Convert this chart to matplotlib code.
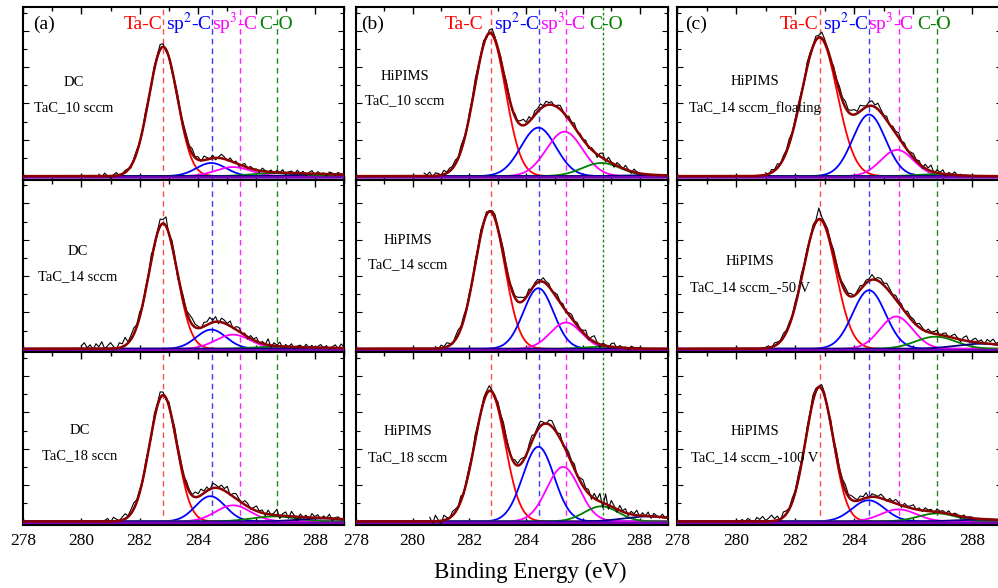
import numpy as np
import matplotlib
matplotlib.use("Agg")
import matplotlib.pyplot as plt
from matplotlib.ticker import MultipleLocator

plt.rcParams['font.family'] = ['Liberation Serif', 'DejaVu Serif']
plt.rcParams['mathtext.fontset'] = 'stix'

# ---------------------------------------------------------------- data
# C 1s spectra, panels ordered row by row: columns (a) DC, (b) HiPIMS, (c) HiPIMS bias series
process = [["DC", "HiPIMS", "HiPIMS"],
           ["DC", "HiPIMS", "HiPIMS"],
           ["DC", "HiPIMS", "HiPIMS"]]
sample = [["TaC_10 sccm", "TaC_10 sccm", "TaC_14 sccm_floating"],
          ["TaC_14 sccm", "TaC_14 sccm", "TaC_14 sccm_-50 V"],
          ["TaC_18 sccn", "TaC_18 sccm", "TaC_14 sccm_-100 V"]]
panel_tags = ["(a)", "(b)", "(c)"]

# fitted components: center (eV), height (counts, a.u.), FWHM (eV)
tac_center = [[282.80, 282.72, 282.82], [282.80, 282.72, 282.82], [282.80, 282.72, 282.82]]
tac_height = [[128, 141, 137], [124, 136, 128], [125, 129, 133]]
tac_fwhm = [[1.15, 1.29, 1.41], [1.14, 1.23, 1.30], [1.10, 1.25, 1.10]]

sp2_center = [[284.45, 284.43, 284.50], [284.45, 284.43, 284.50], [284.42, 284.43, 284.48]]
sp2_height = [[13, 48, 61], [19, 60, 58], [25, 74, 21]]
sp2_fwhm = [[1.20, 1.45, 1.30], [1.20, 1.25, 1.30], [1.20, 1.30, 1.30]]

sp3_center = [[285.20, 285.35, 285.45], [285.20, 285.40, 285.42], [285.20, 285.30, 285.50]]
sp3_height = [[9, 44, 26], [14, 26, 32], [16, 54, 12]]
sp3_fwhm = [[1.40, 1.50, 1.30], [1.40, 1.30, 1.30], [1.40, 1.35, 1.40]]

co_center = [[286.60, 286.65, 286.75], [286.60, 286.65, 286.75], [286.60, 286.65, 286.80]]
co_height = [[3, 13, 2], [2, 2, 12], [5, 15, 8]]
co_fwhm = [[1.80, 1.60, 1.50], [1.80, 1.50, 1.60], [1.80, 1.40, 1.50]]

sat_center = [[288.3, 288.3, 288.3], [288.3, 288.3, 288.3], [288.3, 288.3, 288.3]]
sat_height = [[2, 1, 0], [1, 0, 5], [3, 5, 2]]
sat_fwhm = [[2.0, 2.0, 2.0], [2.0, 2.0, 2.0], [2.0, 2.0, 2.0]]

background_level = -1.3

# reference binding energies marked in each column: Ta-C, sp2-C, sp3-C, C-O
ref_lines = [[282.80, 284.47, 285.45, 286.70],
             [282.75, 284.44, 285.39, 286.70],
             [282.85, 284.50, 285.50, 286.80]]

# measured spectra: start energy, 0.1 eV step, deviation from the fit envelope
meas_start = [[280.6, 280.4, 281.0], [280.0, 280.8, 281.0], [280.8, 280.6, 280.0]]
meas_step = 0.1
resid_a1 = [2, -1, 3, 0, -2, 1, 3, -1, 0, 2, 1, -2, 2, 3, -1, 0, 4, 1, -2, 3,
            2, 5, 3, -2, 1, -3, 2, 4, 1, 3, 4, 2, 5, 1, 3, -1, 4, 2, 0, 3,
            -2, 1, 4, 2, -1, 3, 0, 2, -2, 1, 3, -1, 2, 0, 1, -2, 3, 1, 0, 2,
            -1, 2, 0, 3, -2, 1, 2, -1, 3, 0, 2, -2, 1, 3, -1, 2, 0, 1, -2, 2,
            1, -1, 2, 0, 1]
resid_a2 = [3, 6, 1, 4, -1, 5, 2, 7, 0, 3, 6, 2, -1, 5, 3, 8, 1, 4, 6, 2,
            5, -2, 3, 1, 6, -3, 2, 7, 4, 9, -2, 5, 3, -4, 2, 4, 1, 5, 6, 3,
            2, -1, 4, 3, 6, 2, 5, -2, 4, 3, 1, 5, -1, 3, 4, 0, 2, -2, 3, 1,
            4, -1, 2, 0, 6, -2, 3, 1, 4, -1, 2, 0, 3, -2, 1, 2, -1, 3, 0, 2,
            -1, 1, 3, 0, 2, -2, 1, 3, -1, 4, 1]
resid_a3 = [1, 3, -1, 4, 2, 0, 3, 5, 1, 4, 6, 2, 3, -1, 4, 1, -3, 5, 2, 6,
            3, -2, 4, 1, 5, 2, 3, -1, 4, 2, 1, 5, 3, 6, 2, 4, -1, 5, 3, 1,
            4, 2, 6, -1, 3, 5, 2, 0, 4, 3, -1, 2, 5, 1, 3, -2, 4, 0, 2, 6,
            -3, 2, 4, -2, 5, 1, -4, 3, 0, 2, -2, 4, 1, 3, -1, 2, 0, 4, -2, 1,
            2, -1, 1]
resid_b1 = [3, 1, 4, -1, 3, 2, 0, 4, 1, 3, 2, 4, 1, 5, 3, -1, 4, 2, 6, 3,
            1, 4, -2, 3, 5, 2, -1, 3, 1, 4, 2, -2, 3, 1, 4, 6, 2, 5, -1, 4,
            3, 5, 1, 4, 2, 3, -1, 2, 4, 1, -2, 3, 1, 4, -1, 2, 0, 3, -2, 2,
            1, -3, 3, 5, -2, 4, 1, -3, 3, 2, -1, 4, 1, -2, 3, 1, 0]
resid_b2 = [2, -1, 3, 1, 4, 2, -1, 3, 5, 2, 4, 1, 3, -2, 4, 2, 5, 1, 3, -1,
            2, 4, 1, 3, 5, 2, -1, 3, 2, 4, 5, 3, 1, 4, -1, 2, 3, 1, 4, 2,
            3, -1, 2, 4, 1, 3, -2, 2, 4, 1, 3, 0, 2, 5, -2, 3, 6, 1, -3, 2,
            1, -2, 3, 4, -1, 2, 0, 1, -2, 2, 1, 0, 1]
resid_b3 = [4, -2, 6, 1, -3, 5, 2, -1, 4, 3, 1, 5, -2, 3, 4, 1, 6, 2, -1, 4,
            3, 5, 1, -2, 4, 2, 6, 3, 1, -1, 4, 2, 5, 3, -2, 4, 6, 1, 3, 5,
            2, -1, 4, 6, 3, 1, 5, -2, 3, 4, 2, 5, -1, 3, 6, 2, 4, -3, 5, 1,
            8, -5, 10, -4, 6, 2, -3, 5, 1, 4, -2, 3, 1, 5, -1, 3, 0, 4, -2, 3,
            1, -1, 3, 0, 2]
resid_c1 = [2, -1, 3, 1, 4, 0, 3, 2, 5, 1, 3, 4, 2, -1, 5, 3, 1, 4, 2, 6,
            3, 1, -2, 4, 2, 5, 3, 6, 2, 4, 5, 2, 6, 3, 1, 4, 5, 2, 6, 3,
            1, 4, -1, 3, 2, 5, 1, 3, -1, 2, 4, 1, 3, -2, 4, 2, 6, -1, 3, 1,
            4, -2, 2, 0, 3, -1, 1]
resid_c2 = [1, 2, -1, 3, 2, 1, 4, 2, 3, 1, 4, 2, 5, 1, 3, -1, 4, 2, 11, 3,
            2, 4, 1, 5, 3, -1, 3, 4, 2, 3, -1, 2, 4, 1, 3, 2, 5, 1, 3, 4,
            2, 5, 3, 1, 4, 2, 3, -1, 4, 2, 3, 1, 4, 2, -1, 3, 1, 2, 4, -1,
            2, 3, -1, 2, 4, 1, -2, 3, 5, -1, 2, 4, 1, 3, -1, 4, 2, 5, 1, 3,
            2]
resid_c3 = [1, -1, 2, 0, 3, 1, -1, 4, 2, 5, 1, 3, 6, 2, 4, -2, 5, 3, 1, 4,
            2, 5, 3, -1, 4, 2, 6, 3, 1, 4, 3, -2, 4, 1, 5, 2, 3, 6, 2, 4,
            3, 1, 4, 2, 5, -1, 3, 2, 1, 4, 2, -1, 3, 1, 4, 2, -2, 3, 1, 2,
            4, 0, 2, -1, 3, 1, 2, -2, 3, 1, 2, 0, 3, -1, 2, 1, -2, 2, 0, 1,
            1]
residuals = [[resid_a1, resid_b1, resid_c1],
             [resid_a2, resid_b2, resid_c2],
             [resid_a3, resid_b3, resid_c3]]

x_ticks = [278, 280, 282, 284, 286, 288]

# ---------------------------------------------------------------- styling
W, H = 998, 588
col_left = [23, 356, 677]
col_width = [321, 312, 325]
top_px, bottom_px = 7, 525
row_h = (bottom_px - top_px) / 3

c_tac, c_sp2, c_sp3, c_co, c_sat = "#ff0000", "#0000ff", "#ff00ff", "#008000", "#000080"
c_env, c_bg = "#8b0000", "#7a00b8"
line_colors = ["#ff4a4a", "#3a3aff", "#ff22ff", "#1a8a1a"]

label_x = [[0.374, 0.517, 0.660, 0.788],
           [0.346, 0.516, 0.664, 0.800],
           [0.375, 0.520, 0.658, 0.790]]
tag_x = [0.030, 0.016, 0.025]
text_pos = [[(0.159, 0.561, 0.415), (0.157, 0.600, 0.456), (0.240, 0.567, 0.415)],
            [(0.171, 0.585, 0.439), (0.167, 0.650, 0.510), (0.225, 0.526, 0.374)],
            [(0.177, 0.550, 0.400), (0.167, 0.540, 0.390), (0.240, 0.544, 0.392)]]


def gauss(x, c, h, w):
    return h * np.exp(-4 * np.log(2) * (x - c) ** 2 / w ** 2)


fig = plt.figure(figsize=(W / 100, H / 100), dpi=100)
energy = np.linspace(278, 289, 1101)

for r in range(3):
    for c in range(3):
        y0 = top_px + (r + 1) * row_h
        ax = fig.add_axes([col_left[c] / W, 1 - y0 / H, col_width[c] / W, row_h / H])

        comps = [
            (gauss(energy, tac_center[r][c], tac_height[r][c], tac_fwhm[r][c]), c_tac),
            (gauss(energy, sp2_center[r][c], sp2_height[r][c], sp2_fwhm[r][c]), c_sp2),
            (gauss(energy, sp3_center[r][c], sp3_height[r][c], sp3_fwhm[r][c]), c_sp3),
            (gauss(energy, co_center[r][c], co_height[r][c], co_fwhm[r][c]), c_co),
            (gauss(energy, sat_center[r][c], sat_height[r][c], sat_fwhm[r][c]), c_sat),
        ]
        envelope = np.zeros_like(energy)
        for curve, col in comps:
            ax.plot(energy, curve, color=col, lw=1.3, zorder=3)
            envelope += curve

        ax.plot(energy, np.full_like(energy, background_level), color=c_bg, lw=1.8, zorder=3.5)

        # measured spectrum
        res = np.array(residuals[r][c], dtype=float)
        xm = meas_start[r][c] + meas_step * np.arange(len(res))
        ym = np.interp(xm, energy, envelope) + res
        ax.plot(xm, ym, color="black", lw=0.8, zorder=4)

        ax.plot(energy, envelope, color=c_env, lw=1.8, zorder=5)

        # reference positions
        for k, pos in enumerate(ref_lines[c]):
            dash = (0, (2, 1.6)) if (k == 3 and c == 1) else (0, (4, 3))
            ax.axvline(pos, color=line_colors[k], ls=dash, lw=1.0, zorder=2)

        ax.set_xlim(278, 289)
        ax.set_ylim(-3.5, 167.5)
        ax.xaxis.set_major_locator(MultipleLocator(2))
        ax.xaxis.set_minor_locator(MultipleLocator(1))
        ax.yaxis.set_major_locator(MultipleLocator(36))
        ax.yaxis.set_minor_locator(MultipleLocator(18))
        ax.set_xticks(x_ticks)
        ax.tick_params(axis="x", which="both", direction="in", top=True, bottom=True,
                       labelbottom=(r == 2), labelsize=12.5, pad=6)
        ax.tick_params(axis="x", which="major", length=5, width=1.0)
        ax.tick_params(axis="x", which="minor", length=3, width=1.0)
        ax.tick_params(axis="y", which="both", direction="in", left=True, right=True,
                       labelleft=False, width=0.8)
        ax.tick_params(axis="y", which="major", length=4)
        ax.tick_params(axis="y", which="minor", length=3)
        for sp in ax.spines.values():
            sp.set_linewidth(1.5)

        tx, ty1, ty2 = text_pos[r][c]
        ax.text(tx, ty1, process[r][c], transform=ax.transAxes, ha="center", va="center",
                fontsize=10.5, zorder=6)
        ax.text(tx, ty2, sample[r][c], transform=ax.transAxes, ha="center", va="center",
                fontsize=10.5, zorder=6)

        if r == 0:
            ax.text(tag_x[c], 0.90, panel_tags[c], transform=ax.transAxes, ha="left",
                    va="center", fontsize=14)
            names = ["Ta-C", "sp$^{2}$-C", "sp$^{3}$-C", "C-O"]
            cols = [c_tac, c_sp2, c_sp3, c_co]
            for k in range(4):
                ax.text(label_x[c][k], 0.90, names[k], transform=ax.transAxes,
                        ha="center", va="center", fontsize=14, color=cols[k], zorder=6)

fig.text(530 / W, 1 - 572 / H, "Binding Energy (eV)", ha="center", va="center", fontsize=16.5)

fig.savefig("out.png", dpi=100)
